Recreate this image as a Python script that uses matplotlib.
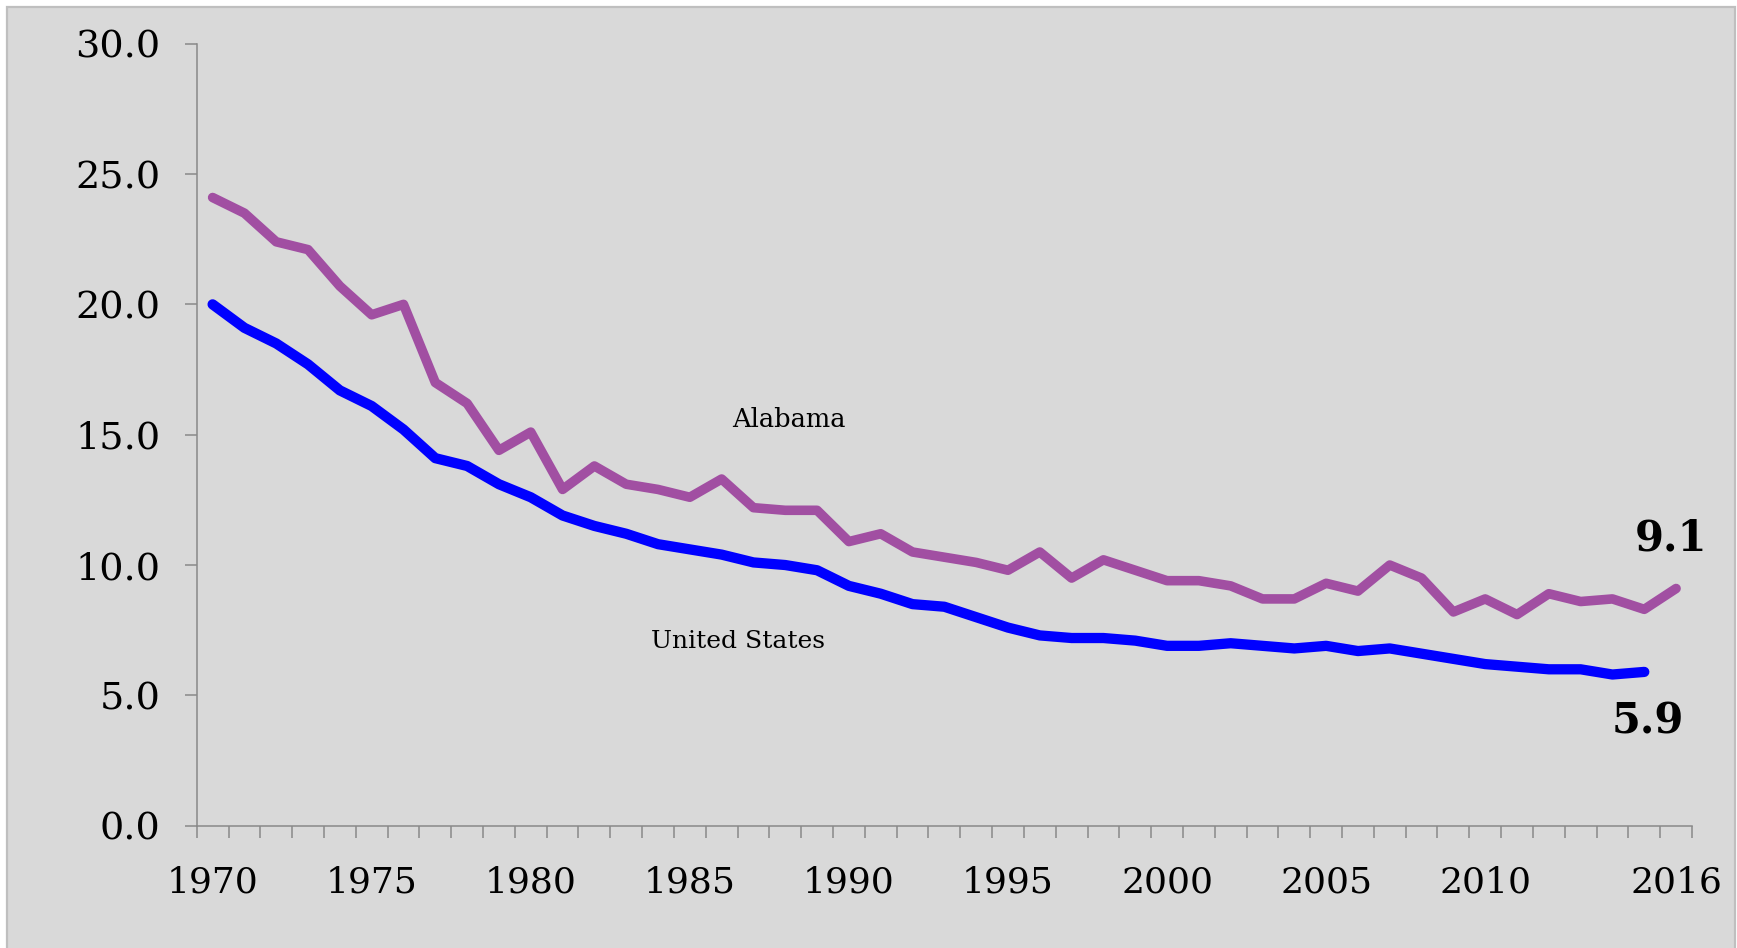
import matplotlib

matplotlib.use("Agg")
import matplotlib.pyplot as plt
import numpy as np
from matplotlib.patches import Rectangle

# Infant deaths per 1,000 live births
years = list(range(1970, 2017))
alabama = [
    24.1, 23.5, 22.4, 22.1, 20.7, 19.6, 20.0, 17.0, 16.2, 14.4,
    15.1, 12.9, 13.8, 13.1, 12.9, 12.6, 13.3, 12.2, 12.1, 12.1,
    10.9, 11.2, 10.5, 10.3, 10.1, 9.8, 10.5, 9.5, 10.2, 9.8,
    9.4, 9.4, 9.2, 8.7, 8.7, 9.3, 9.0, 10.0, 9.5, 8.2,
    8.7, 8.1, 8.9, 8.6, 8.7, 8.3, 9.1,
]
united_states = [
    20.0, 19.1, 18.5, 17.7, 16.7, 16.1, 15.2, 14.1, 13.8, 13.1,
    12.6, 11.9, 11.5, 11.2, 10.8, 10.6, 10.4, 10.1, 10.0, 9.8,
    9.2, 8.9, 8.5, 8.4, 8.0, 7.6, 7.3, 7.2, 7.2, 7.1,
    6.9, 6.9, 7.0, 6.9, 6.8, 6.9, 6.7, 6.8, 6.6, 6.4,
    6.2, 6.1, 6.0, 6.0, 5.8, 5.9,
]
labeled_years = [1970, 1975, 1980, 1985, 1990, 1995, 2000, 2005, 2010, 2016]
y_ticks = [0, 5, 10, 15, 20, 25, 30]

AXIS_GREY = "#898989"
PURPLE = "#A14FA2"
BLUE = "#0000FF"
SERIF = "DejaVu Serif"

fig = plt.figure(figsize=(17.37, 9.48), dpi=100, facecolor="white")
fig.add_artist(Rectangle((6.5 / 1737, -0.05), (1735 - 6.5) / 1737, 1.05 - 6.5 / 948,
                         transform=fig.transFigure, facecolor="#D9D9D9",
                         edgecolor="#BFBFBF", linewidth=1.6, zorder=0))

ax = fig.add_axes([0.11324, 0.12901, 0.86085, 0.82489])
ax.set_facecolor("none")

x_al = np.arange(len(alabama))
x_us = np.arange(len(united_states))
ax.plot(x_al, alabama, color=PURPLE, lw=6.9, solid_capstyle="round", solid_joinstyle="round")
ax.plot(x_us, united_states, color=BLUE, lw=7.4, solid_capstyle="round", solid_joinstyle="round")

ax.set_xlim(-0.5, len(years) - 0.5)
ax.set_ylim(0, 30)

for side in ("top", "right"):
    ax.spines[side].set_visible(False)
for side in ("left", "bottom"):
    ax.spines[side].set_color(AXIS_GREY)
    ax.spines[side].set_linewidth(1.1)

ax.set_yticks(y_ticks)
ax.set_yticklabels([f"{v:.1f}" for v in y_ticks])
ax.tick_params(axis="y", direction="out", length=8.6, width=1.1, color=AXIS_GREY, pad=17.5,
               labelsize=27.5, labelcolor="black")

# category axis: tick marks between years, labels centred on years
ax.set_xticks(np.arange(-0.5, len(years), 1.0), minor=True)
ax.set_xticks([years.index(y) for y in labeled_years])
ax.set_xticklabels([str(y) for y in labeled_years])
ax.tick_params(axis="x", which="minor", direction="out", length=8.6, width=1.1, color=AXIS_GREY)
ax.tick_params(axis="x", which="major", length=0, pad=29, labelsize=26, labelcolor="black")

for lab in ax.get_xticklabels() + ax.get_yticklabels():
    lab.set_family(SERIF)

ax.text(18.1, 15.6, "Alabama", family=SERIF, fontsize=18.5, ha="center", va="center")
ax.text(16.5, 7.05, "United States", family=SERIF, fontsize=18, ha="center", va="center")
ax.text(x_al[-1] - 0.15, alabama[-1] + 1.9, f"{alabama[-1]:.1f}", family=SERIF,
        fontsize=30, fontweight="bold", ha="center", va="center")
ax.text(x_us[-1] + 0.1, united_states[-1] - 1.9, f"{united_states[-1]:.1f}", family=SERIF,
        fontsize=30, fontweight="bold", ha="center", va="center")

fig.savefig("out.png", dpi=100, facecolor=fig.get_facecolor())
